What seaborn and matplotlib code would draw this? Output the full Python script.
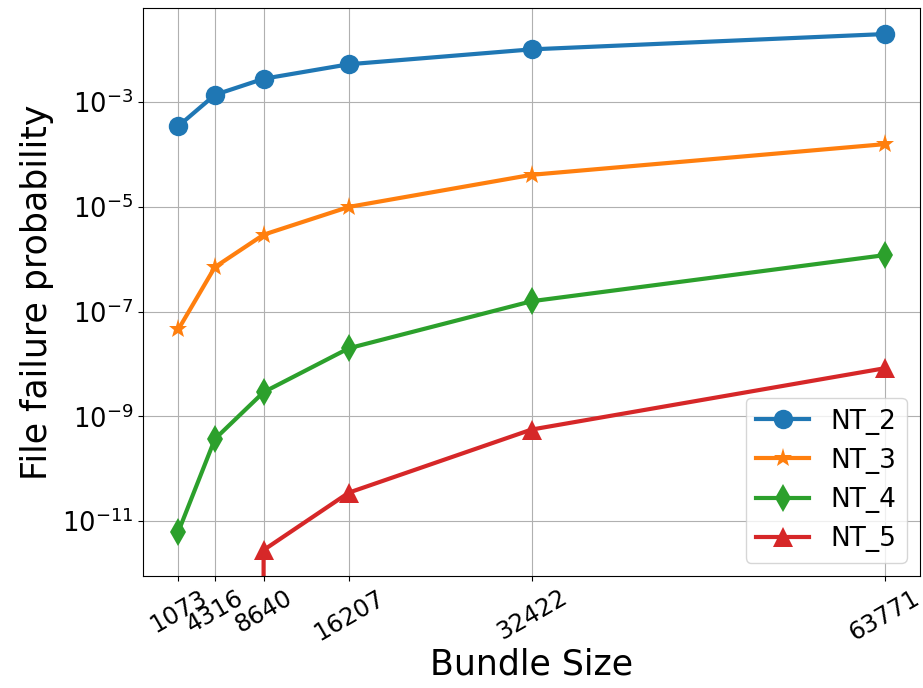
import numpy as np
import pandas as pd
import matplotlib
matplotlib.use("Agg")
import matplotlib.pyplot as plt
import matplotlib.ticker as mticker
import seaborn as sns

# Bundle sizes on the x axis
bundle_sizes = [1073, 4316, 8640, 16207, 32422, 63771]

# File failure probability per NT configuration
nt_2 = [3.5e-4, 1.38e-3, 2.8e-3, 5.3e-3, 1.02e-2, 2.0e-2]
nt_3 = [4.6e-8, 7.1e-7, 2.95e-6, 1.0e-5, 4.1e-5, 1.58e-4]
nt_4 = [6.3e-12, 3.7e-10, 2.9e-9, 2.0e-8, 1.58e-7, 1.2e-6]
nt_5 = [0.0, 0.0, 2.8e-12, 3.5e-11, 5.6e-10, 8.3e-9]

series_names = ["NT_2", "NT_3", "NT_4", "NT_5"]
series_values = [nt_2, nt_3, nt_4, nt_5]
series_markers = ["o", "*", "d", "^"]
series_colors = ["#1f77b4", "#ff7f0e", "#2ca02c", "#d62728"]

fig = plt.figure(figsize=(9.23, 6.88), dpi=100)
ax = fig.add_axes([0.155, 0.163, 0.8417, 0.825])
ax.set_yscale("log")

for name, vals, mk, col in zip(series_names, series_values, series_markers, series_colors):
    df = pd.DataFrame({"bundle": bundle_sizes, "prob": vals})
    sns.lineplot(data=df, x="bundle", y="prob", ax=ax, label=name, color=col,
                 marker=mk, markersize=14, markeredgewidth=0, linewidth=3,
                 estimator=None, sort=False)

ax.set_yticks([1e-11, 1e-9, 1e-7, 1e-5, 1e-3])
ax.yaxis.set_major_formatter(mticker.LogFormatterSciNotation())
ax.yaxis.set_minor_locator(mticker.NullLocator())
ax.set_xticks(bundle_sizes)
ax.set_xticklabels([str(b) for b in bundle_sizes], rotation=30)
ax.tick_params(axis="y", labelsize=18.5)
ax.tick_params(axis="x", labelsize=17.5)
ax.grid(True, color="#b0b0b0", linewidth=0.8)
ax.set_axisbelow(True)

ax.set_xlabel("Bundle Size", fontsize=25, labelpad=2)
ax.set_ylabel("File failure probability", fontsize=25, labelpad=6)
ax.legend(loc="lower right", fontsize=19)

fig.savefig("out.png", dpi=100)
